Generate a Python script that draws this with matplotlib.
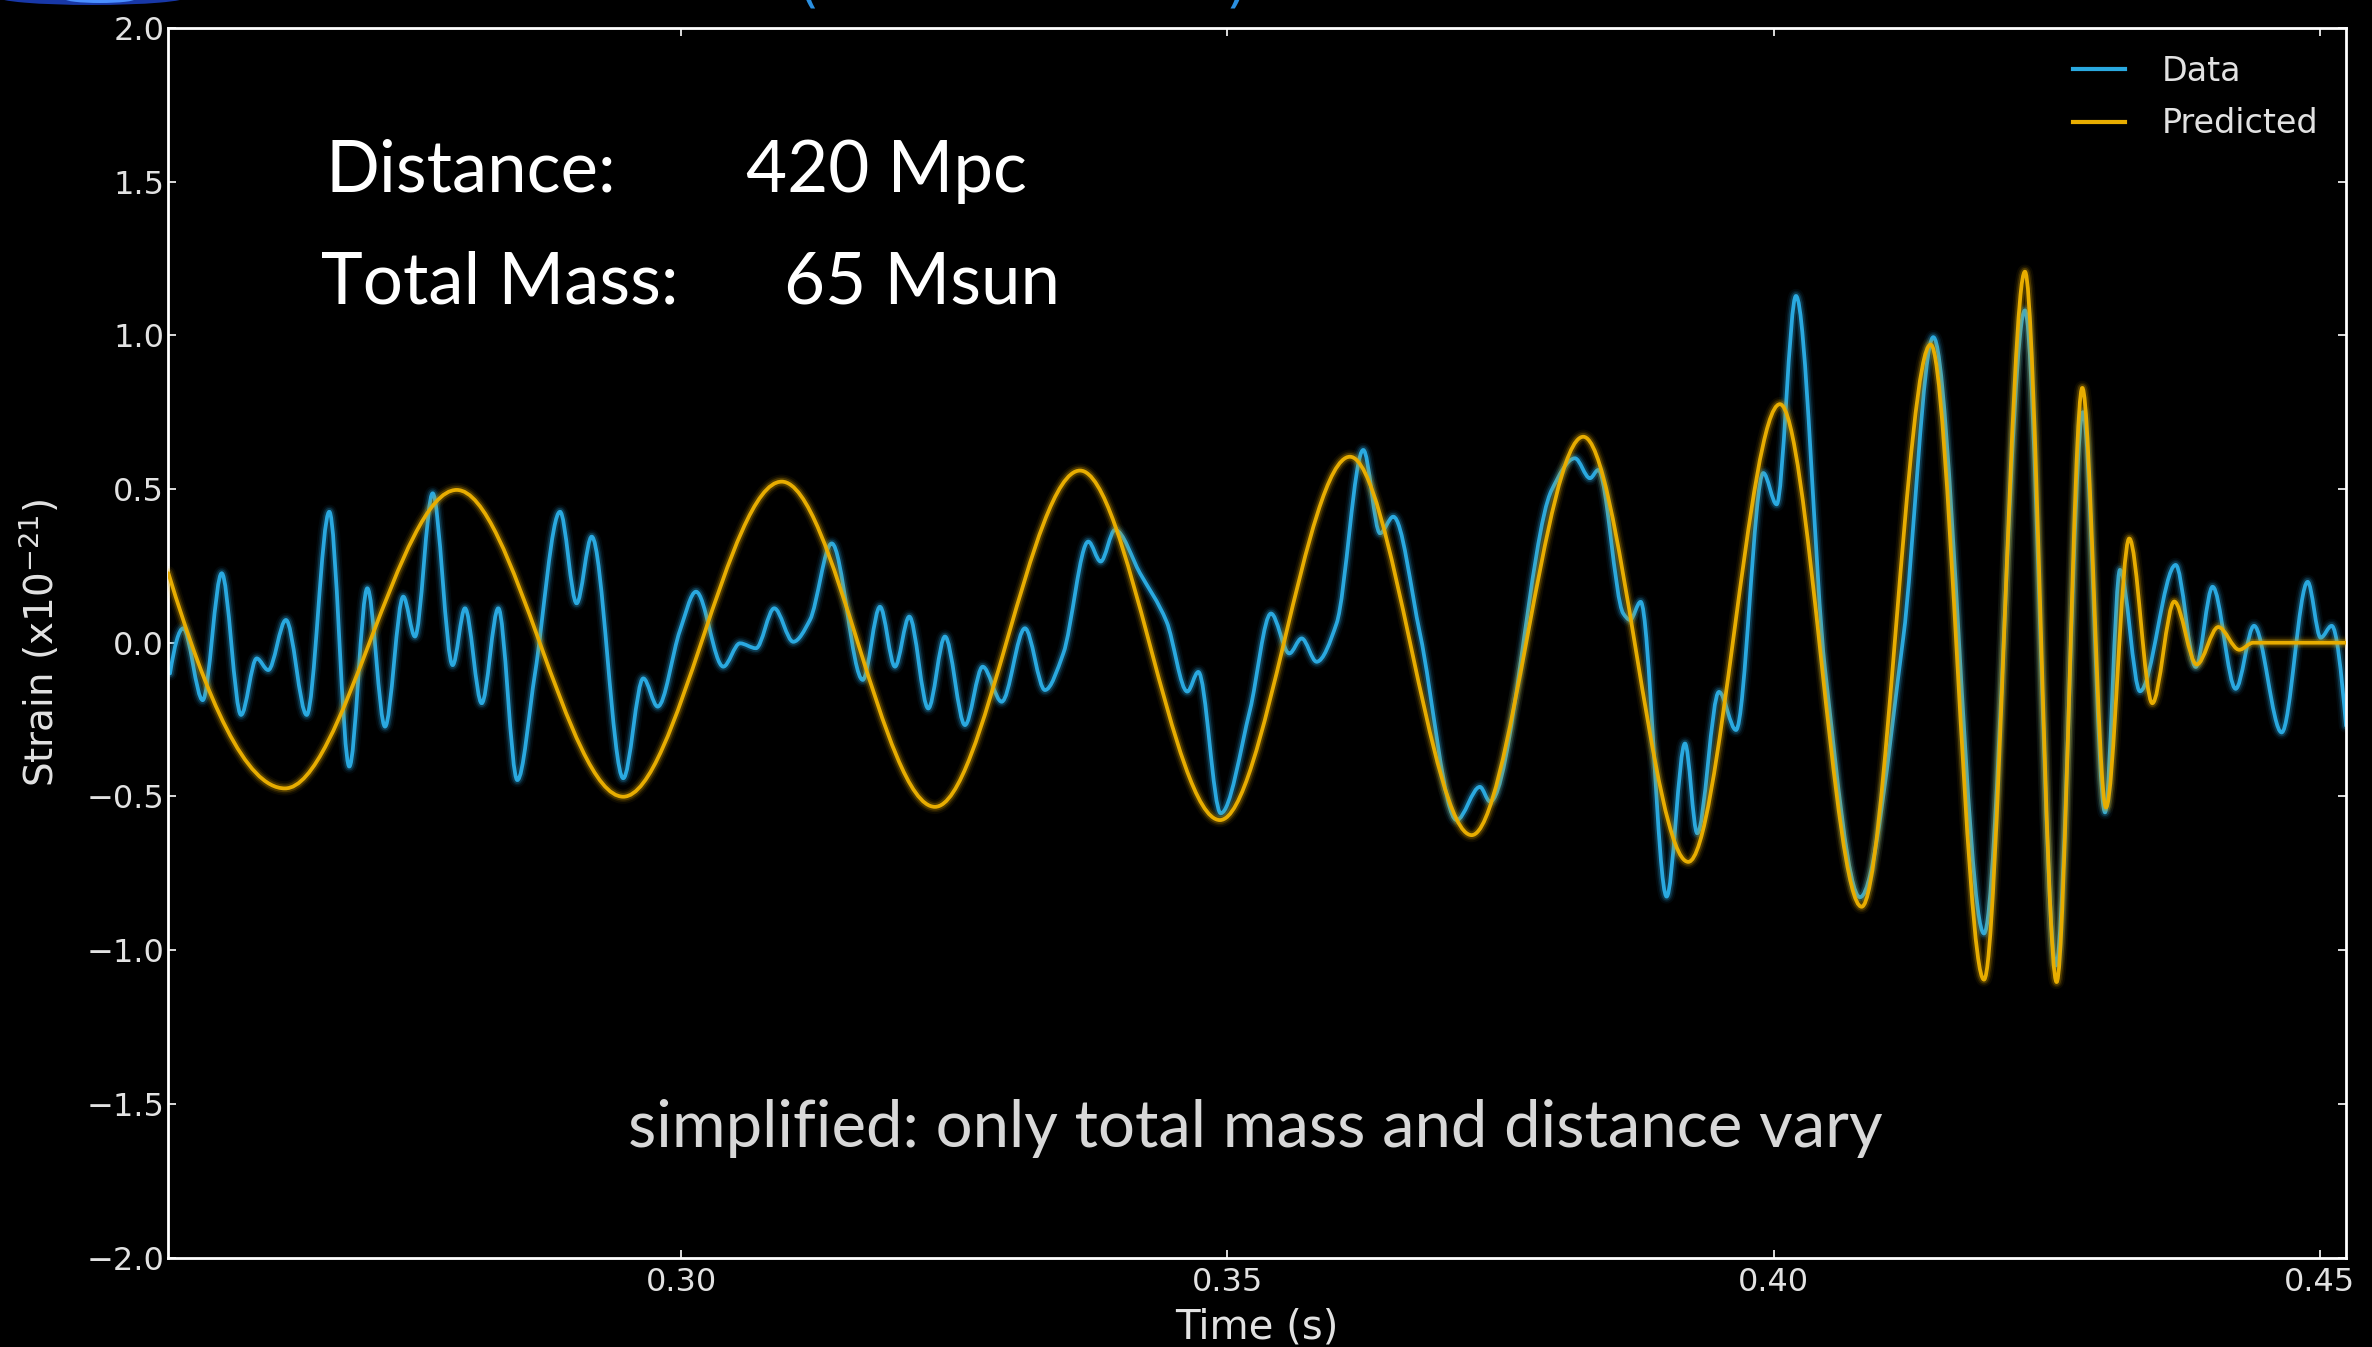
import numpy as np
import matplotlib
matplotlib.use("Agg")
import matplotlib.pyplot as plt
from matplotlib.path import Path
from matplotlib.patches import PathPatch, Ellipse
from matplotlib.lines import Line2D

# ---------------- data (extrema / key points) ----------------
data_time = [
    0.25320, 0.25441, 0.25619, 0.25793, 0.25970, 0.26113, 0.26219, 0.26381, 0.26571, 0.26778,
    0.26961, 0.27126, 0.27288, 0.27455, 0.27562, 0.27724, 0.27907, 0.28020, 0.28173, 0.28325,
    0.28499, 0.28661, 0.28890, 0.29042, 0.29180, 0.29469, 0.29652, 0.29784, 0.29988,
    0.30135, 0.30384, 0.30537, 0.30684, 0.30851, 0.31025, 0.31178, 0.31377, 0.31661, 0.31819,
    0.31956, 0.32087, 0.32261, 0.32414, 0.32597, 0.32759, 0.32933, 0.33146, 0.33329, 0.33497,
    0.33726, 0.33839, 0.33970, 0.34199, 0.34443, 0.34632, 0.34733,
    0.34938, 0.35206, 0.35398, 0.35566, 0.35679, 0.35816, 0.35999, 0.36243, 0.36396, 0.36518,
    0.36762, 0.37098, 0.37311, 0.37403, 0.37968, 0.38181, 0.38318, 0.38394, 0.38623, 0.38685,
    0.38782, 0.39020, 0.39188, 0.39300, 0.39499,
    0.39655, 0.39905, 0.40027, 0.40204, 0.40470, 0.40790, 0.41186, 0.41461, 0.41925, 0.42300,
    0.42584, 0.42831, 0.43033, 0.43170, 0.43353, 0.43680, 0.43863, 0.44018, 0.44229, 0.44397,
    0.44650, 0.44888, 0.45007, 0.45108, 0.45239,
]
data_strain = [
    -0.100, 0.047, -0.187, 0.226, -0.235, -0.051, -0.089, 0.074, -0.235, 0.426,
    -0.403, 0.177, -0.273, 0.150, 0.020, 0.486, -0.073, 0.112, -0.197, 0.112,
    -0.447, -0.100, 0.426, 0.128, 0.345, -0.441, -0.116, -0.208, 0.040,
    0.166, -0.078, -0.002, -0.018, 0.112, 0.003, 0.074, 0.323, -0.121, 0.117,
    -0.078, 0.085, -0.214, 0.020, -0.268, -0.078, -0.192, 0.047, -0.154, -0.035,
    0.329, 0.264, 0.367, 0.226, 0.068, -0.159, -0.095,
    -0.555, -0.219, 0.095, -0.035, 0.014, -0.062, 0.063, 0.627, 0.356, 0.410,
    0.030, -0.577, -0.469, -0.517, 0.497, 0.600, 0.535, 0.562, 0.095, 0.074,
    0.133, -0.826, -0.328, -0.620, -0.160,
    -0.284, 0.552, 0.450, 1.128, -0.087, -0.828, 0.016, 0.994, -0.946, 1.081,
    -1.050, 0.750, -0.552, 0.237, -0.158, 0.253, -0.079, 0.182, -0.150, 0.055,
    -0.292, 0.198, 0.016, 0.055, -0.270,
]
pred_time = [
    0.25305, 0.26372, 0.27944, 0.29469, 0.30919, 0.32322, 0.33650, 0.34931, 0.36121, 0.37235,
    0.38257, 0.39218, 0.40057, 0.40805, 0.41437, 0.41925, 0.42300, 0.42590, 0.42825, 0.43042,
    0.43255, 0.43466, 0.43667, 0.43872, 0.44070, 0.44262, 0.44390, 0.45239,
]
pred_strain = [
    0.226, -0.474, 0.497, -0.501, 0.524, -0.534, 0.560, -0.577, 0.605, -0.626,
    0.670, -0.713, 0.776, -0.859, 0.970, -1.096, 1.207, -1.104, 0.829, -0.536,
    0.339, -0.197, 0.134, -0.071, 0.051, -0.023, 0.000, 0.000,
]
series_labels = ["Data", "Predicted"]
x_ticks = [0.30, 0.35, 0.40, 0.45]
x_tick_labels = ["0.30", "0.35", "0.40", "0.45"]
y_ticks = [-2.0, -1.5, -1.0, -0.5, 0.0, 0.5, 1.0, 1.5, 2.0]
y_tick_labels = ["\u22122.0", "\u22121.5", "\u22121.0", "\u22120.5", "0.0", "0.5", "1.0", "1.5", "2.0"]
x_limits = (0.25305, 0.45239)
y_limits = (-2.0, 2.0)

# ---------------- style ----------------
W, H = 2372, 1347
BLUE = "#2aa9e0"
GOLD = "#e8ad00"
TXT = "#e2e2e2"


def smooth_path(x, y):
    """Smooth monotone (PCHIP-like) curve through the read points, rendered as Bezier."""
    x = np.asarray(x, float)
    y = np.asarray(y, float)
    h = np.diff(x)
    d = np.diff(y) / h
    n = len(x)
    m = np.zeros(n)
    for k in range(1, n - 1):
        if d[k - 1] * d[k] > 0:
            w1 = 2 * h[k] + h[k - 1]
            w2 = h[k] + 2 * h[k - 1]
            m[k] = (w1 + w2) / (w1 / d[k - 1] + w2 / d[k])

    def end(h0, h1, d0, d1):
        mm = ((2 * h0 + h1) * d0 - h0 * d1) / (h0 + h1)
        if np.sign(mm) != np.sign(d0):
            mm = 0.0
        elif np.sign(d0) != np.sign(d1) and abs(mm) > abs(3 * d0):
            mm = 3 * d0
        return mm

    m[0] = end(h[0], h[1], d[0], d[1])
    m[-1] = end(h[-1], h[-2], d[-1], d[-2])
    verts = [(x[0], y[0])]
    codes = [Path.MOVETO]
    for k in range(n - 1):
        verts += [(x[k] + h[k] / 3, y[k] + m[k] * h[k] / 3),
                  (x[k + 1] - h[k] / 3, y[k + 1] - m[k + 1] * h[k] / 3),
                  (x[k + 1], y[k + 1])]
        codes += [Path.CURVE4] * 3
    return Path(verts, codes)


def glow(ax, path, color, lw, z):
    for f, a in [(3.8, 0.06), (2.8, 0.11), (2.0, 0.22)]:
        ax.add_patch(PathPatch(path, fill=False, edgecolor=color, lw=lw * f, alpha=a,
                               zorder=z, capstyle="round", joinstyle="round"))
    ax.add_patch(PathPatch(path, fill=False, edgecolor=color, lw=lw, zorder=z + 0.1,
                           capstyle="round", joinstyle="round"))


fig = plt.figure(figsize=(W / 100, H / 100), dpi=100, facecolor="black")
ax = fig.add_axes([168.4 / W, 1 - 1257.5 / H, (2346 - 168.4) / W, (1257.5 - 27.9) / H])
ax.set_facecolor("black")

glow(ax, smooth_path(data_time, data_strain), BLUE, 2.7, 2)
glow(ax, smooth_path(pred_time, pred_strain), GOLD, 2.7, 3)

ax.set_xlim(*x_limits)
ax.set_ylim(*y_limits)
ax.set_xticks(x_ticks)
ax.set_xticklabels(x_tick_labels)
ax.set_yticks(y_ticks)
ax.set_yticklabels(y_tick_labels)
ax.tick_params(axis="both", direction="in", top=True, right=True, length=6, width=1.2,
               color="white", labelcolor=TXT, labelsize=23)
ax.tick_params(axis="x", pad=7)
ax.tick_params(axis="y", pad=3)
for s in ax.spines.values():
    s.set_color("white")
    s.set_linewidth(2.0)

ax.set_xlabel("Time (s)", fontsize=29, color=TXT)
ax.xaxis.set_label_coords(0.5, -0.0405)
ax.xaxis.label.set_va("top")
ax.set_ylabel("Strain (x10$^{-21}$)", fontsize=28, color=TXT)
ax.yaxis.set_label_coords(-0.049, 0.5)

handles = [Line2D([], [], color=BLUE, lw=3.0), Line2D([], [], color=GOLD, lw=3.0)]
ax.legend(handles, series_labels, loc="upper right", frameon=False, fontsize=24,
          labelcolor=TXT, handlelength=1.56, handletextpad=1.1, labelspacing=0.58,
          borderaxespad=0.0, borderpad=0.0,
          bbox_to_anchor=((2318 - 168.4) / 2177.6, (1257.5 - 55) / 1229.6))

# overlay annotation (slide text)
big = dict(family="Lato", fontsize=51, color="white", va="baseline", ha="left")
fig.text(325 / W, 1 - 192 / H, "Distance:", **big)
fig.text(746 / W, 1 - 192 / H, "420 Mpc", **big)
fig.text(321 / W, 1 - 303.5 / H, "Total Mass:", **big)
fig.text(784 / W, 1 - 303.5 / H, "65 Msun", **big)
fig.text(628 / W, 1 - 1147 / H, "simplified: only total mass and distance vary",
         family="Lato", fontsize=47, color="#d8d8d8", va="baseline", ha="left")

# remnants of a title and a logo cut off by the top of the frame
fig.text(797 / W, 1.0, "(", fontsize=40, color="#2a8fe0", va="baseline", ha="left")
fig.text(1226 / W, 1.0, ")", fontsize=40, color="#2a8fe0", va="baseline", ha="left")
fig.patches.append(Ellipse((92 / W, 1 + 3 / H), 190 / W, 16 / H, transform=fig.transFigure,
                           facecolor="#1838a8", edgecolor="none"))
fig.patches.append(Ellipse((100 / W, 1 + 1 / H), 70 / W, 8 / H, transform=fig.transFigure,
                           facecolor="#4a90ff", edgecolor="none"))

fig.savefig("out.png", dpi=100, facecolor="black")
